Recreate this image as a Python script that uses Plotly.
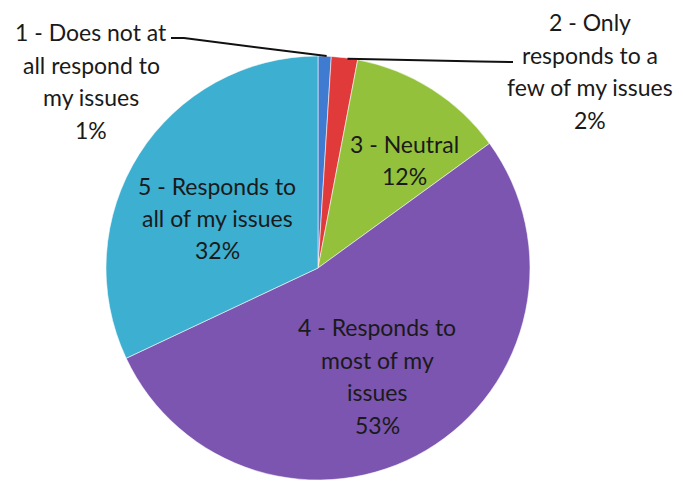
import math
import plotly.graph_objects as go

# ---- data ----
categories = [
    "1 - Does not at all respond to my issues",
    "2 - Only responds to a few of my issues",
    "3 - Neutral",
    "4 - Responds to most of my issues",
    "5 - Responds to all of my issues",
]
values = [1, 2, 12, 53, 32]
pct_labels = ["1%", "2%", "12%", "53%", "32%"]
label_lines = [
    ["1 - Does not at", "all respond to", "my issues"],
    ["2 - Only", "responds to a", "few of my issues"],
    ["3 - Neutral"],
    ["4 - Responds to", "most of my", "issues"],
    ["5 - Responds to", "all of my issues"],
]
colors = ["#3F7BD0", "#E03A3A", "#93C13C", "#7C55B0", "#3DAFD0"]

# ---- layout constants (pixels) ----
W, H = 683, 486
CX, CY, R = 318, 268, 212
FONT = "Lato"
FS = 23
LINE = 32.5
# label block centres (pixels)
label_centres = [(91, 81), (590, 71), (404, 160), (377, 376), (217, 218)]


def px(x):
    return x / W


def py(y):
    return 1 - y / H


fig = go.Figure(
    go.Pie(
        labels=categories,
        values=values,
        sort=False,
        direction="clockwise",
        rotation=0,
        textinfo="none",
        hoverinfo="label+percent",
        marker=dict(colors=colors, line=dict(color="rgba(255,255,255,0.55)", width=1)),
        domain=dict(x=[px(CX - R), px(CX + R)], y=[py(CY + R), py(CY - R)]),
        showlegend=False,
    )
)

annotations = []
for i, (lines, (lx, ly)) in enumerate(zip(label_lines, label_centres)):
    all_lines = lines + [pct_labels[i]]
    n = len(all_lines)
    for k, t in enumerate(all_lines):
        yy = ly + (k - (n - 1) / 2) * LINE
        annotations.append(
            dict(
                x=px(lx), y=py(yy), xref="paper", yref="paper",
                text=t, showarrow=False, xanchor="center", yanchor="middle",
                font=dict(family=FONT, size=FS, color="#1a1a1a"),
            )
        )

# leader lines from outside labels to slice mid-angle on the rim
total = sum(values)
cum = 0
mids = []
for v in values:
    mids.append((cum + v / 2) / total * 2 * math.pi)
    cum += v


def rim(a, r=R):
    return CX + r * math.sin(a), CY - r * math.cos(a)


shapes = []
# label 1 leader
x1, y1 = rim(mids[0], R - 1)
shapes.append(dict(
    type="path", xref="paper", yref="paper",
    path=f"M {px(171)},{py(38)} L {px(184)},{py(38)} L {px(x1 + 2)},{py(y1 - 1)}",
    line=dict(color="#111111", width=2),
))
# label 2 leader
x2, y2 = rim(mids[1], R - 1)
shapes.append(dict(
    type="path", xref="paper", yref="paper",
    path=f"M {px(x2 + 3)},{py(y2)} L {px(480)},{py(61.5)} L {px(513)},{py(62)}",
    line=dict(color="#111111", width=2),
))

fig.update_layout(
    width=W, height=H,
    margin=dict(l=0, r=0, t=0, b=0),
    paper_bgcolor="white",
    plot_bgcolor="white",
    annotations=annotations,
    shapes=shapes,
)

fig.write_html(
    "out.html",
    config={"displayModeBar": False},
    post_script="document.body.style.margin='0';",
)
